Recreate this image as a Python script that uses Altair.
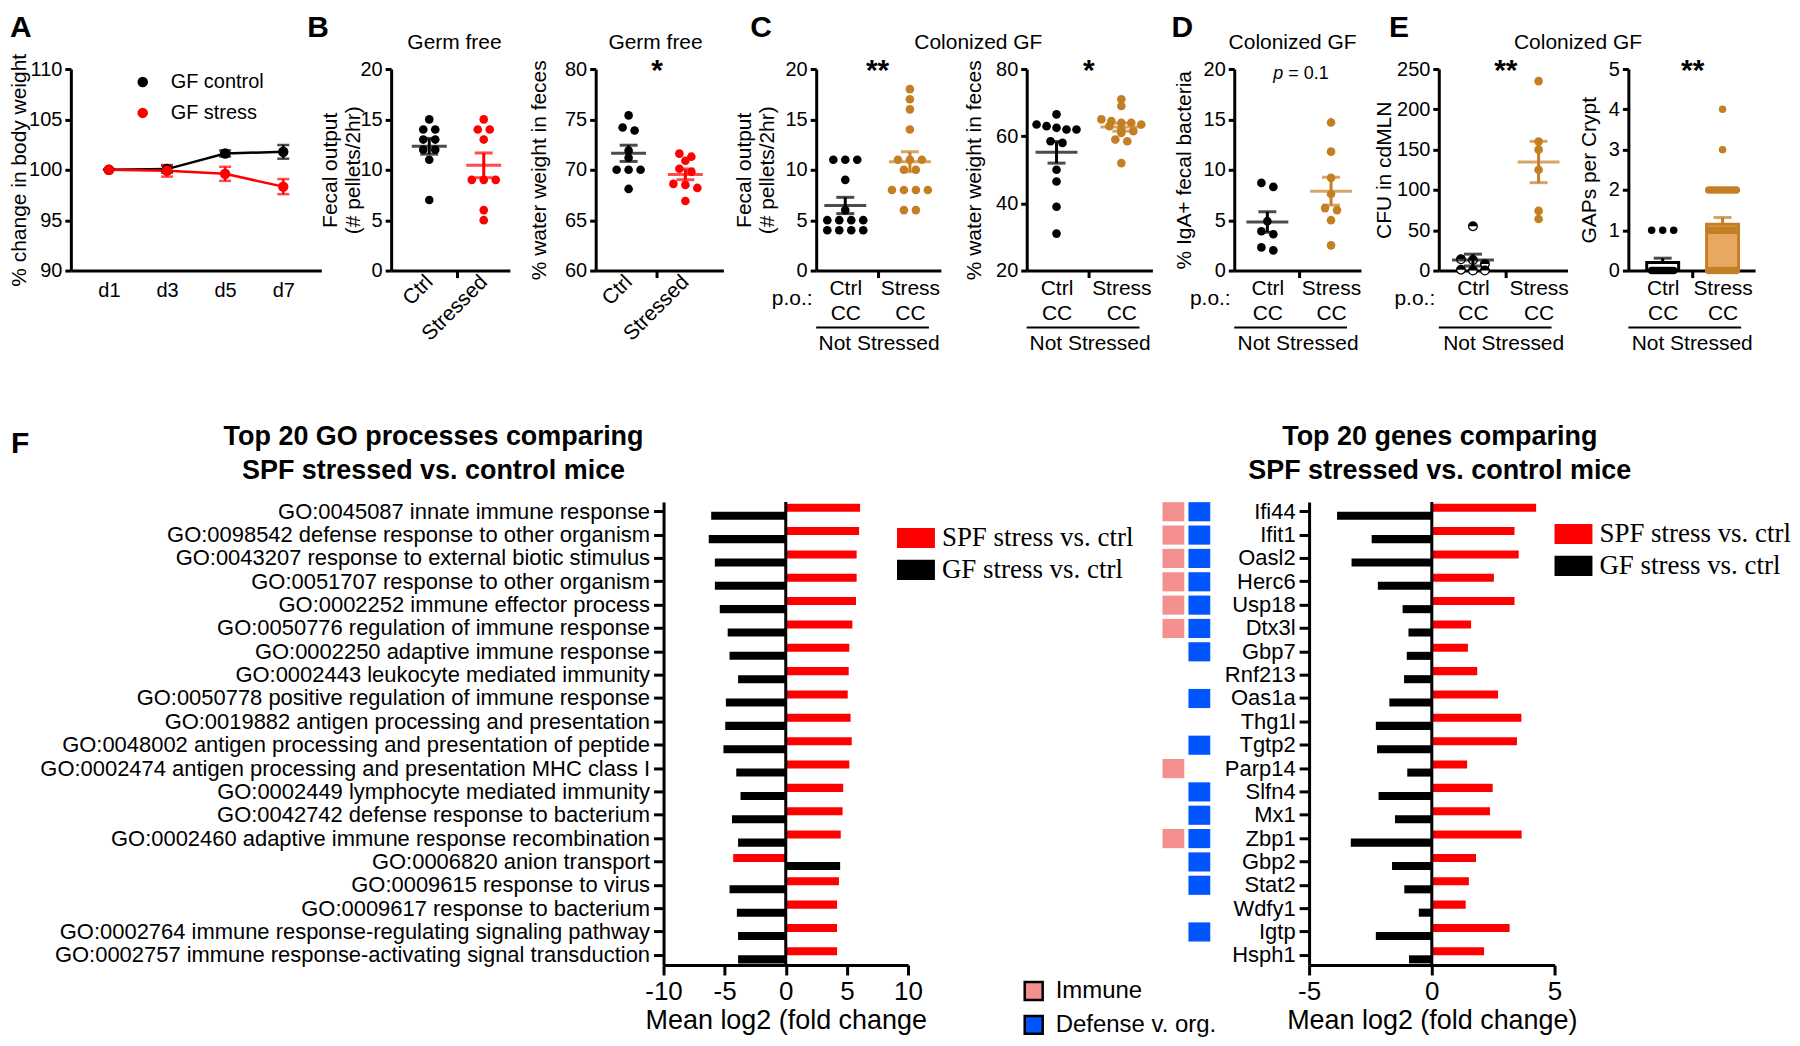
import altair as alt
import pandas as pd

FONT = "Liberation Sans"
SERIF = "Liberation Serif"
RED = "#ff0000"
GOLD = "#c47f25"
LIGHT = "#e8a862"
PINK = "#f4918f"
BLUE = "#0055ff"
H = 202
HF = 464
ONE = pd.DataFrame({"k": [0]})
HALF = "M-1,0A1,1 0 0 1 1,0Z"
RECT = "M-1,-0.53H1V0.53H-1Z"

# ---------------- data ----------------
A_days = ["d1", "d3", "d5", "d7"]
A_groups = ["GF control", "GF stress"]
A_ctrl_mean = [100.0, 100.07, 101.62, 101.78]
A_ctrl_sem = [0.0, 0.35, 0.30, 0.68]
A_stress_mean = [100.0, 99.90, 99.60, 98.33]
A_stress_sem = [0.0, 0.58, 0.70, 0.75]

B_labels = ["Ctrl", "Stressed"]
CDE_labels = [["Ctrl", "CC"], ["Stress", "CC"]]
group_label = "Not Stressed"

B1_ctrl = [15, 14, 14, 13, 13, 12, 12, 11, 7]
B1_stress = [15, 14, 14, 13, 9, 9, 9, 6, 5]
B2_ctrl = [75.4, 74.2, 73.9, 71.9, 71.2, 70.0, 70.0, 70.0, 68.1]
B2_stress = [71.6, 71.3, 70.9, 70.1, 69.8, 68.6, 68.5, 68.2, 66.9]
C1_ctrl = [11, 11, 11, 9, 6, 5, 5, 5, 5, 4, 4, 4, 4]
C1_stress = [18, 17, 16, 14, 11, 11, 11, 10, 10, 8, 8, 8, 8, 6, 6]
C2_ctrl = [66.5, 63.5, 63.0, 62.5, 62.0, 62.0, 58.5, 58.0, 50.0, 46.5, 39.0, 31.0]
C2_stress = [71.0, 69.0, 65.0, 64.5, 64.0, 64.0, 63.5, 63.0, 62.0, 61.5, 61.0, 59.0, 58.5, 52.0]
D_ctrl = [8.7, 8.3, 4.9, 3.9, 3.6, 2.3, 2.0]
D_stress = [14.7, 11.8, 9.2, 7.6, 6.2, 6.0, 5.0, 2.5]
E1_ctrl = [55, 14, 13, 8, 1, 0, 0]
E1_stress = [235, 160, 150, 125, 74, 64]
E2_ctrl = [1, 1, 1, 0, 0, 0, 0, 0, 0, 0, 0, 0, 0, 0, 0]
E2_stress = [4, 3, 2, 2, 2, 2, 2, 2, 2, 2, 2, 2,
             1, 1, 1, 1, 1, 1, 1, 1, 1, 1, 1, 1,
             0, 0, 0, 0, 0, 0, 0, 0, 0, 0]

SER = ["SPF stress vs. ctrl", "GF stress vs. ctrl"]
GO_terms = [
    "GO:0045087 innate immune response",
    "GO:0098542 defense response to other organism",
    "GO:0043207 response to external biotic stimulus",
    "GO:0051707 response to other organism",
    "GO:0002252 immune effector process",
    "GO:0050776 regulation of immune response",
    "GO:0002250 adaptive immune response",
    "GO:0002443 leukocyte mediated immunity",
    "GO:0050778 positive regulation of immune response",
    "GO:0019882 antigen processing and presentation",
    "GO:0048002 antigen processing and presentation of peptide",
    "GO:0002474 antigen processing and presentation MHC class I",
    "GO:0002449 lymphocyte mediated immunity",
    "GO:0042742 defense response to bacterium",
    "GO:0002460 adaptive immune response recombination",
    "GO:0006820 anion transport",
    "GO:0009615 response to virus",
    "GO:0009617 response to bacterium",
    "GO:0002764 immune response-regulating signaling pathway",
    "GO:0002757 immune response-activating signal transduction",
]
GO_spf = [6.08, 6.0, 5.8, 5.8, 5.75, 5.45, 5.2, 5.15, 5.07, 5.3,
          5.4, 5.2, 4.7, 4.65, 4.5, -4.3, 4.35, 4.2, 4.2, 4.2]
GO_gf = [-6.1, -6.3, -5.8, -5.8, -5.4, -4.75, -4.6, -3.9, -4.9, -4.95,
         -5.1, -4.05, -3.7, -4.4, -3.9, 4.45, -4.6, -4.0, -3.9, -3.9]

GENES = ["Ifi44", "Ifit1", "Oasl2", "Herc6", "Usp18", "Dtx3l", "Gbp7", "Rnf213", "Oas1a", "Thg1l",
         "Tgtp2", "Parp14", "Slfn4", "Mx1", "Zbp1", "Gbp2", "Stat2", "Wdfy1", "Igtp", "Hsph1"]
GENE_spf = [4.25, 3.37, 3.54, 2.53, 3.37, 1.6, 1.47, 1.85, 2.7, 3.65,
            3.47, 1.44, 2.48, 2.37, 3.66, 1.8, 1.51, 1.38, 3.17, 2.13]
GENE_gf = [-3.86, -2.45, -3.27, -2.2, -1.19, -0.95, -1.02, -1.13, -1.73, -2.28,
           -2.23, -1.0, -2.17, -1.5, -3.3, -1.62, -1.12, -0.53, -2.28, -0.93]
CATS = ["Immune", "Defense v. org."]
IMMUNE_GENES = ["Ifi44", "Ifit1", "Oasl2", "Herc6", "Usp18", "Dtx3l", "Parp14", "Zbp1"]
DEFENSE_GENES = ["Ifi44", "Ifit1", "Oasl2", "Herc6", "Usp18", "Dtx3l", "Gbp7", "Oas1a",
                 "Tgtp2", "Slfn4", "Mx1", "Zbp1", "Gbp2", "Stat2", "Igtp"]


# ---------------- helpers ----------------
def swarm(vals, tol, step, maxw):
    order = sorted(range(len(vals)), key=lambda i: -vals[i])
    groups = []
    for i in order:
        if groups and vals[groups[-1][0]] - vals[i] <= tol:
            groups[-1].append(i)
        else:
            groups.append([i])
    off = [0.0] * len(vals)
    for grp in groups:
        n = len(grp)
        s = step if n < 2 else min(step, maxw / (n - 1))
        for k, i in enumerate(grp):
            off[i] = (k - (n - 1) / 2) * s
    return off


def y_axis(vals, title, tx):
    return alt.Axis(values=vals, title=title, titleX=tx, titleY=H / 2, titleAngle=270,
                    titleBaseline="middle", titleAlign="center", titleFontSize=21,
                    titleFontWeight="normal", titleLineHeight=23, labelFontSize=20,
                    labelPadding=3, tickSize=6, tickWidth=3, domainWidth=3, grid=False)


def cat_axis(rotated, title):
    kw = dict(values=[1, 1.5, 2],
              tickOpacity={"condition": {"test": "datum.value == 1.5", "value": 1}, "value": 0},
              tickSize=7, tickWidth=3, domainWidth=3, labelFontSize=21, grid=False,
              labelFlush=False)
    if rotated:
        kw.update(labelExpr="datum.value == 1 ? '%s' : datum.value == 2 ? '%s' : ''" % tuple(B_labels),
                  labelAngle=315, labelAlign="right", labelBaseline="middle", labelPadding=1)
    else:
        a, b = CDE_labels
        kw.update(labelExpr="datum.value == 1 ? ['%s', '%s'] : datum.value == 2 ? ['%s', '%s'] : ''"
                  % (a[0], a[1], b[0], b[1]),
                  labelAlign="center", labelBaseline="top", labelPadding=0, labelLineHeight=25)
    if title:
        kw.update(title=title, titleFontSize=21, titleFontWeight="normal", titleY=73,
                  titleBaseline="middle")
    else:
        kw.update(title=None)
    return alt.Axis(**kw)


def letter_layer(txt, dx, dy=-56):
    return alt.Chart(ONE).mark_text(text=txt, fontSize=30, fontWeight="bold", align="left",
                                    baseline="top").encode(x=alt.value(dx), y=alt.value(dy))


def panel(v1, v2, cols, ydom, yvals, ytitle, ytx, w, xdom, rotated=False, star=None,
          title=None, tdx=0, po=False, notst=False, mean_w=42,
          cap_w=18, kind="dots", half=False, dsize=75, maxw=(40, 40), pval=False):
    ppu_y = H / (ydom[1] - ydom[0])
    ppu_x = w / (xdom[1] - xdom[0])
    rows = []
    for g, vals, mw in ((1, v1, maxw[0]), (2, v2, maxw[1])):
        offs = swarm(vals, 5.5 / ppu_y, 12, mw)
        for v, o in zip(vals, offs):
            rows.append({"g": g, "v": v, "xx": g + o / ppu_x})
    df = pd.DataFrame(rows)
    xs = alt.Scale(domain=xdom, nice=False, zero=False)
    ys = alt.Scale(domain=ydom, nice=False, zero=False)
    xa = cat_axis(rotated, group_label if notst else None)
    ya = y_axis(yvals, ytitle, ytx)

    def X(f):
        return alt.X(f, type="quantitative", scale=xs, axis=xa)

    def Y(f):
        return alt.Y(f, type="quantitative", scale=ys, axis=ya)

    col = alt.Color("g:N", scale=alt.Scale(domain=[1, 2], range=cols), legend=None)
    base = alt.Chart(df)
    agg = base.transform_aggregate(m="mean(v)", s="stderr(v)", groupby=["g"]).transform_calculate(
        lo="datum.m - datum.s", hi="datum.m + datum.s")
    layers = []
    if kind == "bars":
        layers.append(agg.mark_bar(orient="vertical", size=32, strokeWidth=3).encode(
            x=X("g"), y=Y("m"),
            fill=alt.Fill("g:N", scale=alt.Scale(domain=[1, 2], range=["white", LIGHT]), legend=None),
            stroke=alt.Stroke("g:N", scale=alt.Scale(domain=[1, 2], range=cols), legend=None)))
    if half:
        d1 = base.transform_filter("datum.g == 1")
        layers.append(d1.mark_point(shape="circle", filled=True, fill="white", stroke="black",
                                    strokeWidth=1.3, size=dsize, opacity=1).encode(x=X("xx"), y=Y("v")))
        layers.append(d1.mark_point(shape=HALF, filled=True, fill="black", strokeWidth=0,
                                    size=dsize, opacity=1).encode(x=X("xx"), y=Y("v")))
        layers.append(base.transform_filter("datum.g == 2").mark_circle(
            size=dsize, opacity=1, color=cols[1]).encode(x=X("xx"), y=Y("v")))
    else:
        layers.append(base.mark_circle(size=dsize, opacity=1).encode(x=X("xx"), y=Y("v"), color=col))
    if kind == "bars":
        layers.append(agg.mark_rule(strokeWidth=3).encode(x=X("g"), y=Y("m"), y2=alt.Y2("hi"), color=col))
        layers.append(agg.mark_tick(orient="horizontal", size=cap_w, thickness=3).encode(
            x=X("g"), y=Y("hi"), color=col))
    else:
        layers.append(agg.mark_rule(strokeWidth=3).encode(x=X("g"), y=Y("lo"), y2=alt.Y2("hi"), color=col))
        layers.append(agg.transform_fold(["lo", "hi"], as_=["which", "yy"]).mark_tick(
            orient="horizontal", size=cap_w, thickness=3).encode(x=X("g"), y=Y("yy"), color=col))
        layers.append(agg.mark_tick(orient="horizontal", size=mean_w, thickness=3).encode(
            x=X("g"), y=Y("m"), color=col))
    if star:
        sdf = pd.DataFrame({"x": [1.5], "y": [ydom[1]], "t": [star]})
        layers.append(alt.Chart(sdf).mark_text(fontSize=30, fontWeight="bold", baseline="alphabetic",
                                               dy=11).encode(x=X("x"), y=Y("y"), text="t:N"))
    if pval:
        pdf = pd.DataFrame({"x": [1.5], "y": [ydom[1]]})
        layers.append(alt.Chart(pdf).mark_text(text="p", fontSize=18, fontStyle="italic", align="right",
                                               baseline="alphabetic", dx=-16, dy=10).encode(x=X("x"), y=Y("y")))
        layers.append(alt.Chart(pdf).mark_text(text="= 0.1", fontSize=18, align="left",
                                               baseline="alphabetic", dx=-11, dy=10).encode(x=X("x"), y=Y("y")))
    if po:
        layers.append(alt.Chart(ONE).mark_text(text="p.o.:", fontSize=21, baseline="middle").encode(
            x=alt.value(-24), y=alt.value(231)))
    if notst:
        layers.append(alt.Chart(ONE).mark_rule(strokeWidth=2, color="black").encode(
            x=alt.value(0), x2=alt.value(113), y=alt.value(259)))
    ch = alt.layer(*layers).properties(width=w, height=H)
    if title:
        ch = ch.properties(title=alt.TitleParams(title, fontSize=21, anchor="middle", frame="group",
                                                 dx=tdx, offset=3 if star else 6, fontWeight="normal"))
    return ch


# ---------------- panel A ----------------
dfA = pd.DataFrame({
    "day": A_days * 2,
    "grp": [A_groups[0]] * 4 + [A_groups[1]] * 4,
    "m": A_ctrl_mean + A_stress_mean,
    "s": A_ctrl_sem + A_stress_sem,
})
xA = alt.X("day:N", sort=A_days, scale=alt.Scale(type="point", padding=0.655),
           axis=alt.Axis(title=None, labelAngle=0, ticks=False, labelPadding=10, labelFontSize=20,
                         domainWidth=3, grid=False))
ysA = alt.Scale(domain=[90, 110], nice=False, zero=False)
yaA = y_axis([90, 95, 100, 105, 110], "% change in body weight", -51)
baseA = alt.Chart(dfA).transform_calculate(lo="datum.m - datum.s", hi="datum.m + datum.s")
layersA = []
for g, c in zip(A_groups, ["black", RED]):
    layersA.append(baseA.transform_filter("datum.grp == '%s'" % g).mark_line(color=c, strokeWidth=2.5).encode(
        x=xA, y=alt.Y("m:Q", scale=ysA, axis=yaA)))
for g, c in zip(A_groups, ["black", RED]):
    f = baseA.transform_filter("datum.grp == '%s'" % g)
    layersA.append(f.mark_rule(color=c, strokeWidth=2.5).encode(
        x=xA, y=alt.Y("lo:Q", scale=ysA, axis=yaA), y2=alt.Y2("hi")))
    layersA.append(f.transform_fold(["lo", "hi"], as_=["which", "yy"]).mark_tick(
        orient="horizontal", size=12, thickness=2.5, color=c).encode(
        x=xA, y=alt.Y("yy:Q", scale=ysA, axis=yaA)))
layersA.append(baseA.mark_circle(size=110, opacity=1).encode(
    x=xA, y=alt.Y("m:Q", scale=ysA, axis=yaA),
    color=alt.Color("grp:N", scale=alt.Scale(domain=A_groups, range=["black", RED]),
                    legend=alt.Legend(orient="none", legendX=62, legendY=3, title=None,
                                      symbolType="circle", symbolSize=110, labelFontSize=20,
                                      labelOffset=18, rowPadding=11, padding=0, symbolStrokeWidth=0))))
layersA.append(letter_layer("A", -61))
pA = alt.layer(*layersA).properties(width=251, height=H)

# ---------------- panels B-E ----------------
pB1 = panel(B1_ctrl, B1_stress, ["black", RED], [0, 20], [0, 5, 10, 15, 20],
            ["Fecal output", "(# pellets/2hr)"], -61, 119, [0.30, 2.48], rotated=True,
            title="Germ free", tdx=4, mean_w=35)
pB2 = panel(B2_ctrl, B2_stress, ["black", RED], [60, 80], [60, 65, 70, 75, 80],
            "% water weight in feces", -56, 128, [0.42, 2.67], rotated=True, star="*",
            title="Germ free", tdx=-4, mean_w=35)
pC1 = panel(C1_ctrl, C1_stress, ["black", GOLD], [0, 20], [0, 5, 10, 15, 20],
            ["Fecal output", "(# pellets/2hr)"], -72, 125, [0.55, 2.48], star="**",
            title="Colonized GF", tdx=100, po=True, notst=True)
pC2 = panel(C2_ctrl, C2_stress, ["black", GOLD], [20, 80], [20, 40, 60, 80],
            "% water weight in feces", -52, 126, [0.54, 2.48], star="*", notst=True)
pD = panel(D_ctrl, D_stress, ["black", GOLD], [0, 20], [0, 5, 10, 15, 20],
           "% IgA+ fecal bacteria", -50, 127, [0.48, 2.47], pval=True,
           title="Colonized GF", tdx=-5, po=True, notst=True)
pE1 = panel(E1_ctrl, E1_stress, ["black", GOLD], [0, 250], [0, 50, 100, 150, 200, 250],
            "CFU in cdMLN", -54, 129, [0.48, 2.44], star="**", title="Colonized GF", tdx=75,
            po=True, notst=True, half=True)
pE2 = panel(E2_ctrl, E2_stress, ["black", GOLD], [0, 5], [0, 1, 2, 3, 4, 5],
            "GAPs per Crypt", -39, 127, [0.51, 2.46], star="**", notst=True, kind="bars",
            dsize=56, maxw=(24, 30))


# ---------------- panel F ----------------
def fc_chart(labels, spf, gf, xdom, xvals, w, tlines, tdx, xtitle, lx, ly):
    n = len(labels)
    df = pd.DataFrame({"lab": labels + labels, "series": [SER[0]] * n + [SER[1]] * n, "val": spf + gf})
    xs = alt.Scale(domain=xdom, nice=False)
    xa = alt.Axis(values=xvals, title=xtitle, labelFontSize=26, labelPadding=4, tickSize=10, tickWidth=3,
                  labelExpr="datum.value < 0 ? '-' + abs(datum.value) : '' + datum.value",
                  domainWidth=3, titleFontSize=27, titleFontWeight="normal", titleY=56,
                  titleBaseline="middle", labelFlush=False, grid=False)
    ya = alt.Axis(title=None, labelFontSize=22, labelLimit=1000, labelOverlap=False, labelPadding=4,
                  tickSize=10, tickWidth=3, domainWidth=3, grid=False)
    bars = alt.Chart(df).mark_bar().encode(
        y=alt.Y("lab:N", sort=labels, scale=alt.Scale(domain=labels, paddingInner=0.31, paddingOuter=0.07),
                axis=ya),
        yOffset=alt.YOffset("series:N", sort=SER, scale=alt.Scale(domain=SER, paddingInner=0, paddingOuter=0)),
        x=alt.X("val:Q", scale=xs, axis=xa),
        color=alt.Color("series:N", scale=alt.Scale(domain=SER, range=[RED, "black"]),
                        legend=alt.Legend(orient="none", legendX=lx, legendY=ly, title=None,
                                          symbolType=RECT, symbolSize=1444, symbolStrokeWidth=0,
                                          labelFont=SERIF, labelFontSize=27, labelOffset=7,
                                          rowPadding=0, padding=0, labelLimit=500)))
    zero = alt.Chart(ONE).transform_calculate(z="0").mark_rule(strokeWidth=3, color="black").encode(
        x=alt.X("z:Q", scale=xs, axis=xa))
    return alt.layer(bars, zero).properties(
        width=w, height=HF,
        title=alt.TitleParams(tlines, fontSize=27, fontWeight="bold", anchor="middle", frame="group",
                              dx=tdx, offset=15, lineHeight=34))


pGO = fc_chart(GO_terms, GO_spf, GO_gf, [-10, 10], [-10, -5, 0, 5, 10], 245,
               ["Top 20 GO processes comparing", "SPF stressed vs. control mice"], -353,
               "Mean log2 (fold change", 234, 17)
pGENE = fc_chart(GENES, GENE_spf, GENE_gf, [-5, 5], [-5, 0, 5], 246,
                 ["Top 20 genes comparing", "SPF stressed vs. control mice"], 8,
                 "Mean log2 (fold change)", 246, 13)

sq_df = pd.DataFrame([{"gene": g, "cat": CATS[0]} for g in IMMUNE_GENES] +
                     [{"gene": g, "cat": CATS[1]} for g in DEFENSE_GENES])
pSQ = alt.Chart(sq_df).mark_rect().encode(
    x=alt.X("cat:N", scale=alt.Scale(domain=CATS, paddingInner=0.16, paddingOuter=0.04), axis=None),
    y=alt.Y("gene:N", scale=alt.Scale(domain=GENES, paddingInner=0.18, paddingOuter=0.005), axis=None),
    color=alt.Color("cat:N", scale=alt.Scale(domain=CATS, range=[PINK, BLUE]),
                    legend=alt.Legend(orient="none", legendX=-140, legendY=478, title=None,
                                      symbolType="square", symbolSize=324, symbolStrokeColor="black",
                                      symbolStrokeWidth=2.5, labelFontSize=24, labelOffset=10,
                                      rowPadding=6, padding=0, labelLimit=400)),
).properties(width=50, height=HF)


def sp(w, letter=None, ldx=0, ldy=-56):
    pt = alt.Chart(ONE).mark_point(opacity=0).encode(x=alt.value(0), y=alt.value(0))
    if letter:
        return alt.layer(pt, letter_layer(letter, ldx, ldy)).properties(width=w, height=1)
    return pt.properties(width=w, height=1)


IND = dict(color="independent", fill="independent", stroke="independent")

row1 = alt.hconcat(pA, sp(70, "B", -14), pB1, sp(86), pB2, sp(93, "C", 27), pC1, sp(86), pC2,
                   sp(82, "D", 19), pD, sp(78, "E", 28), pE1, sp(61), pE2,
                   spacing=0, bounds="flush").resolve_scale(**IND)
row2 = alt.hconcat(sp(594, "F", -60, -73), pGO, sp(254), pSQ, sp(98), pGENE,
                   spacing=0, bounds="flush").resolve_scale(**IND)

chart = alt.vconcat(row1, row2, spacing=434, bounds="flush").resolve_scale(**IND).properties(
    padding={"top": 4, "left": 0, "right": 0, "bottom": 0}).configure_view(stroke=None).configure_axis(
    labelColor="black", titleColor="black", domainColor="black", tickColor="black",
    labelFont=FONT, titleFont=FONT).configure_title(font=FONT, color="black").configure_legend(
    labelColor="black", labelFont=FONT).configure_text(font=FONT, color="black")

chart.save("out.html", embed_options={"renderer": "svg", "actions": False})
